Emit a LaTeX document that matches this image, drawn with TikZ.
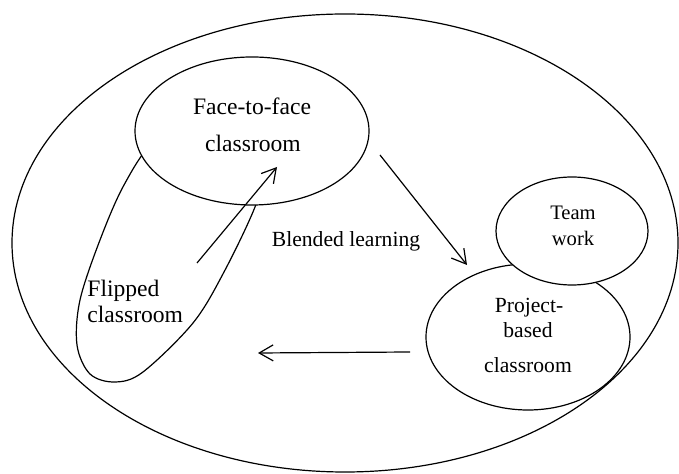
\documentclass[tikz,border=0pt]{standalone}
\usepackage{fontspec}
\setmainfont{Liberation Serif}
\usetikzlibrary{shapes.geometric,arrows.meta}
\begin{document}
\begin{tikzpicture}[x=0.5pt,y=-0.5pt,
  ell/.style={ellipse, draw, line width=0.6pt, inner sep=0pt, outer sep=0pt},
  outline/.style={draw, line width=0.6pt},
  lbl/.style={anchor=base, inner sep=0pt},
  big/.style={font=\fontsize{11.8}{14}\selectfont},
  mid/.style={font=\fontsize{10.8}{13}\selectfont},
  small/.style={font=\fontsize{10.3}{12}\selectfont},
  arr/.style={line width=0.6pt, -{Straight Barb[length=7pt,width=8pt]}}
]
\useasboundingbox (0,0) rectangle (679,474);
\fill[white] (0,0) rectangle (679,474);
% outer ellipse
\node[ell, minimum width=333pt, minimum height=229pt] (outer) at (345,243) {};
% flipped classroom region (egg shape, top hidden behind face-to-face)
\draw[outline] plot[smooth cycle, tension=0.55] coordinates {
  (205,112) (250,122) (266,165) (255,207) (224,272) (193,323)
  (143,372) (115,382) (90,374) (77,345) (80,300) (100,240)
  (124,185) (155,140)};
% face-to-face ellipse
\node[ell, fill=white, minimum width=117pt, minimum height=74pt] (f2f) at (252,131) {};
% project-based and team work
\node[ell, minimum width=102pt, minimum height=73pt] (proj) at (528,337) {};
\node[ell, fill=white, minimum width=76pt, minimum height=54pt] (team) at (572,231) {};
% texts
\node[lbl, big] (t1) at (252,115) {Face-to-face};
\node[lbl, big] (t2) at (253,152) {classroom};
\node[lbl, big, anchor=base west] (t3) at (87,297) {Flipped};
\node[lbl, big, anchor=base west] (t4) at (87,323) {classroom};
\node[lbl, mid] (t5) at (346,247) {Blended learning};
\node[lbl, small] (t6) at (573,220) {Team};
\node[lbl, small] (t7) at (573,246) {work};
\node[lbl, mid] (t8) at (529,313) {Project-};
\node[lbl, mid] (t9) at (528,338) {based};
\node[lbl, mid] (t10) at (528,373) {classroom};
% arrow end points
\coordinate (a1s) at (197,263);
\coordinate (a1e) at (277,167);
\coordinate (a2s) at (380,155);
\coordinate (a2e) at (467,265);
\coordinate (a3s) at (410,352);
\coordinate (a3e) at (258,353);
\draw[arr] (a1s) -- (a1e);
\draw[arr] (a2s) -- (a2e);
\draw[arr] (a3s) -- (a3e);
\end{tikzpicture}
\end{document}
